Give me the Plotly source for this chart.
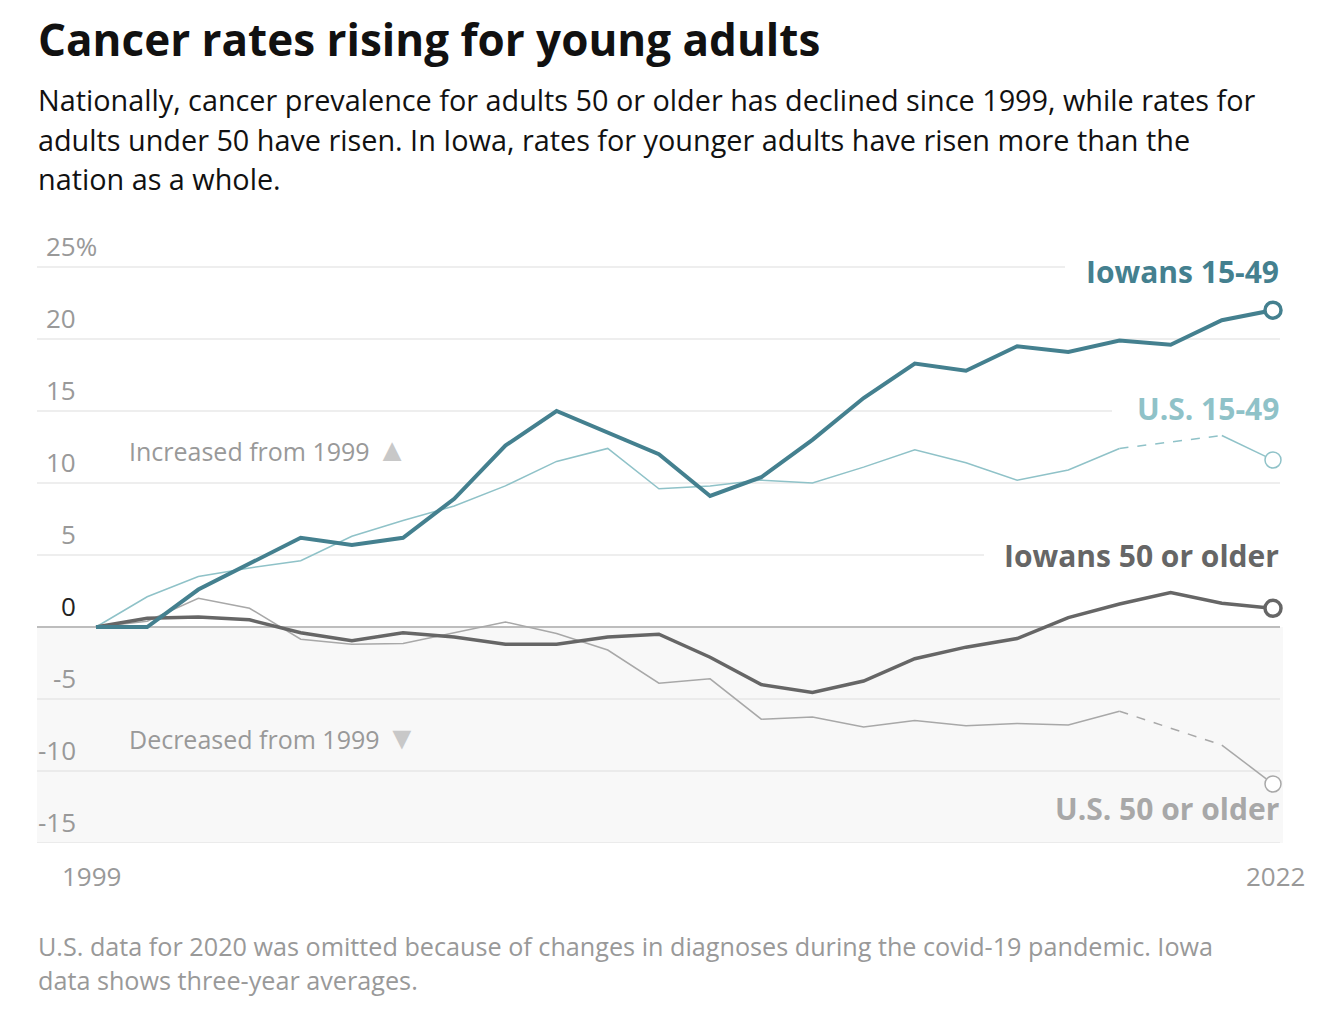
import plotly.graph_objects as go

years = list(range(1999, 2023))
iowa_young = [0, 0, 2.6, 4.4, 6.2, 5.7, 6.2, 8.9, 12.6, 15.0, 13.5, 12.0, 9.1, 10.4,
              13.0, 15.9, 18.3, 17.8, 19.5, 19.1, 19.9, 19.6, 21.3, 22.0]
us_young = [0, 2.1, 3.5, 4.1, 4.6, 6.3, 7.4, 8.4, 9.8, 11.5, 12.4, 9.6, 9.8, 10.2,
            10.0, 11.1, 12.3, 11.4, 10.2, 10.9, 12.4, None, 13.3, 11.6]
iowa_old = [0, 0.6, 0.7, 0.5, -0.4, -0.95, -0.4, -0.7, -1.2, -1.2, -0.7, -0.5, -2.1, -4.0,
            -4.55, -3.75, -2.2, -1.4, -0.8, 0.65, 1.6, 2.4, 1.65, 1.3]
us_old = [0, 0.4, 2.0, 1.3, -0.85, -1.2, -1.15, -0.4, 0.35, -0.45, -1.6, -3.9, -3.6, -6.4,
          -6.25, -6.95, -6.5, -6.85, -6.7, -6.8, -5.85, None, -8.2, -10.9]

tick_vals = [25, 20, 15, 10, 5, 0, -5, -10, -15]
tick_text = ["25%", "20", "15", "10", "5", "0", "-5", "-10", "-15"]
x_labels = [1999, 2022]

TEAL = "#44808f"
LTEAL = "#8fc2c8"
DGRAY = "#666666"
LGRAY = "#a8a8a8"
FONT = "Open Sans, Roboto, sans-serif"

# page offset (browser body margin) and figure geometry in reference pixels
OX, OY = 8, 8
W, H = 1319, 1025
RL, RR, RT, RB = 37, 1283, 230, 843   # plot area in reference pixels
L, T = RL - OX, RT - OY
R = W - (RR - OX)
B = H - (RB - OY)
PW = W - L - R
PH = H - T - B


def xp(px):
    return (px - OX - L) / PW


def yp(py):
    return (H - B - (py - OY)) / PH


fig = go.Figure()

fig.add_shape(type="rect", xref="paper", yref="y", x0=0, x1=1, y0=-15, y1=0,
              fillcolor="#f8f8f8", line_width=0, layer="below")

grid_ends = {25: 1065, 20: 1280, 15: 1112, 10: 1280, 5: 984, 0: 1280, -5: 1280, -10: 1280, -15: 1280}
for v in tick_vals:
    color = "#bdbdbd" if v == 0 else "#dddddd"
    width = 2 if v == 0 else 1.2
    fig.add_shape(type="line", xref="paper", yref="y", x0=0, x1=xp(grid_ends[v]),
                  y0=v, y1=v, line=dict(color=color, width=width), layer="below")


def add_series(vals, color, width, gap_dash=False, end_marker=True, mwidth=2):
    fig.add_trace(go.Scatter(x=years, y=vals, mode="lines", connectgaps=False,
                             line=dict(color=color, width=width), hoverinfo="skip",
                             showlegend=False))
    if gap_dash:
        idx = [i for i, v in enumerate(vals) if v is None]
        for i in idx:
            fig.add_trace(go.Scatter(x=[years[i - 1], years[i + 1]],
                                     y=[vals[i - 1], vals[i + 1]], mode="lines",
                                     line=dict(color=color, width=width, dash="dash"),
                                     hoverinfo="skip", showlegend=False))
    if end_marker:
        fig.add_trace(go.Scatter(x=[years[-1]], y=[vals[-1]], mode="markers",
                                 marker=dict(size=16, color="white",
                                             line=dict(color=color, width=mwidth)),
                                 hoverinfo="skip", showlegend=False))


add_series(us_old, LGRAY, 1.5, gap_dash=True, mwidth=1.5)
add_series(us_young, LTEAL, 1.5, gap_dash=True, mwidth=1.5)
add_series(iowa_old, DGRAY, 3.5, mwidth=3.5)
add_series(iowa_young, TEAL, 4, mwidth=3.5)

ann = []
for v, t in zip(tick_vals, tick_text):
    col = "#222222" if v == 0 else "#999999"
    if t.endswith("%"):
        ann.append(dict(text=t, xref="paper", yref="y", x=xp(44), y=v + 1.45,
                        xanchor="left", yanchor="middle", showarrow=False,
                        font=dict(family=FONT, size=26, color=col)))
    else:
        ann.append(dict(text=t, xref="paper", yref="y", x=xp(78), y=v + 1.45,
                        xanchor="right", yanchor="middle", showarrow=False,
                        font=dict(family=FONT, size=26, color=col)))
for yr, shift in zip(x_labels, [-5, 2]):
    ann.append(dict(text=str(yr), xref="x", yref="paper", x=yr, y=yp(876),
                    xanchor="center", yanchor="middle", showarrow=False, xshift=shift,
                    font=dict(family=FONT, size=26, color="#999999")))

labels = [("Iowans 15-49", TEAL, 271), ("U.S. 15-49", LTEAL, 408),
          ("Iowans 50 or older", DGRAY, 555), ("U.S. 50 or older", LGRAY, 808)]
for txt, col, py in labels:
    ann.append(dict(text="<b>" + txt + "</b>", xref="paper", yref="paper", x=xp(1281),
                    y=yp(py), xanchor="right", yanchor="middle", showarrow=False,
                    font=dict(family=FONT, size=30, color=col)))

ann.append(dict(text='Increased from 1999 <span style="color:#c8c8c8;font-size:32px">▲</span>',
                xref="paper", yref="paper", x=xp(127), y=yp(448), xanchor="left",
                yanchor="middle", showarrow=False,
                font=dict(family=FONT, size=25, color="#999999")))
ann.append(dict(text='Decreased from 1999 <span style="color:#c8c8c8;font-size:32px">▼</span>',
                xref="paper", yref="paper", x=xp(127), y=yp(736), xanchor="left",
                yanchor="middle", showarrow=False,
                font=dict(family=FONT, size=25, color="#999999")))

ann.append(dict(text="<b>Cancer rates rising for young adults</b>", xref="paper", yref="paper",
                x=xp(36), y=yp(39), xanchor="left", yanchor="middle", showarrow=False,
                font=dict(family=FONT, size=44, color="#111111")))
sub = ["Nationally, cancer prevalence for adults 50 or older has declined since 1999, while rates for",
       "adults under 50 have risen. In Iowa, rates for younger adults have risen more than the",
       "nation as a whole."]
for i, s in enumerate(sub):
    ann.append(dict(text=s, xref="paper", yref="paper", x=xp(36), y=yp(99 + 40 * i),
                    xanchor="left", yanchor="middle", showarrow=False,
                    font=dict(family=FONT, size=28.8, color="#111111")))
foot = ["U.S. data for 2020 was omitted because of changes in diagnoses during the covid-19 pandemic. Iowa",
        "data shows three-year averages."]
for i, s in enumerate(foot):
    ann.append(dict(text=s, xref="paper", yref="paper", x=xp(36), y=yp(946 + 34 * i),
                    xanchor="left", yanchor="middle", showarrow=False,
                    font=dict(family=FONT, size=25.2, color="#999999")))

pxyr = (1273 - 96) / 23
x0 = 1999 - (96 - RL) / pxyr
x1 = 2022 + (RR - 1273) / pxyr
y1 = (627 - RT) / ((843 - 627) / 15)

fig.update_layout(
    width=W, height=H,
    margin=dict(l=L, r=R, t=T, b=B),
    paper_bgcolor="white", plot_bgcolor="white",
    xaxis=dict(range=[x0, x1], showgrid=False, zeroline=False, showticklabels=False,
               showline=False, fixedrange=True),
    yaxis=dict(range=[-15, y1], showgrid=False, zeroline=False, showticklabels=False,
               showline=False, fixedrange=True),
    annotations=ann,
    showlegend=False,
)

fig.write_html("out.html", config={"displayModeBar": False})
